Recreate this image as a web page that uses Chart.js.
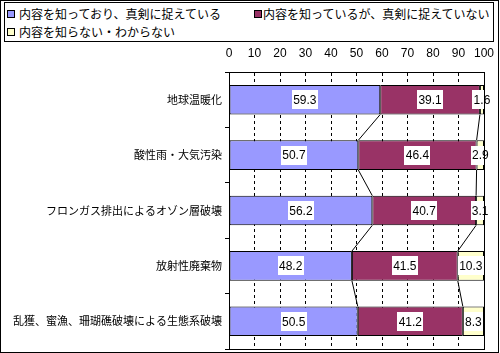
<!DOCTYPE html>
<html><head><meta charset="utf-8">
<script src="https://cdn.jsdelivr.net/npm/chart.js@4/dist/chart.umd.min.js"></script>
<style>
html,body{margin:0;padding:0;background:#fff;}
#wrap{position:relative;width:500px;height:353px;overflow:hidden;}
#c{position:absolute;left:0;top:0;}
#legend{position:absolute;left:4px;top:2px;width:490px;height:40px;box-sizing:border-box;border:1px solid #000;background:#fff;font-family:"Noto Sans CJK JP",sans-serif;font-size:12px;color:#000;}
.mk{position:absolute;width:6px;height:6px;border:1px solid #000;}
.tx{position:absolute;white-space:nowrap;line-height:16px;}
</style></head>
<body>
<div id="wrap">
<canvas id="c" width="500" height="353"></canvas>
<div id="legend"></div>
</div>
<script>
const categories = ['地球温暖化','酸性雨・大気汚染','フロンガス排出によるオゾン層破壊','放射性廃棄物','乱獲、蜜漁、珊瑚礁破壊による生態系破壊'];
const seriesNames = ['内容を知っており、真剣に捉えている','内容を知っているが、真剣に捉えていない','内容を知らない・わからない'];
const awareSerious = [59.3, 50.7, 56.2, 48.2, 50.5];
const awareNotSerious = [39.1, 46.4, 40.7, 41.5, 41.2];
const notAware = [1.6, 2.9, 3.1, 10.3, 8.3];
const xTickValues = [0,10,20,30,40,50,60,70,80,90,100];
const seriesColors = ['#9999FF','#993366','#FFFFCC'];

// legend (HTML text)
const legendPos = [[2,7,14,3],[249,7,258,3],[2,25,14,21]];
const lg = document.getElementById('legend');
seriesNames.forEach((n,i)=>{
  const p = legendPos[i];
  const m = document.createElement('div'); m.className='mk';
  m.style.left=p[0]+'px'; m.style.top=p[1]+'px'; m.style.background=seriesColors[i];
  const t = document.createElement('div'); t.className='tx';
  t.style.left=p[2]+'px'; t.style.top=p[3]+'px'; t.textContent=n;
  lg.appendChild(m); lg.appendChild(t);
});

const seriesLines = {
  id:'seriesLines',
  afterDatasetsDraw(chart){
    const ctx = chart.ctx;
    ctx.save();
    ctx.strokeStyle='#000'; ctx.lineWidth=1;
    [0,1].forEach(di=>{
      const els = chart.getDatasetMeta(di).data;
      for(let i=0;i<els.length-1;i++){
        const a=els[i], b=els[i+1];
        ctx.beginPath();
        ctx.moveTo(a.x, a.y + a.height/2);
        ctx.lineTo(b.x, b.y - b.height/2);
        ctx.stroke();
      }
    });
    // labels
    ctx.font = '12px "Liberation Sans", Arial, sans-serif';
    ctx.textAlign='center'; ctx.textBaseline='middle';
    chart.data.datasets.forEach((ds,di)=>{
      chart.getDatasetMeta(di).data.forEach((el,i)=>{
        const txt = ds.data[i].toFixed(1);
        const cx = (el.x + el.base)/2;
        const w = Math.ceil(ctx.measureText(txt).width)+2;
        const h = 19;
        ctx.fillStyle='#fff';
        ctx.fillRect(Math.round(cx - w/2), Math.round(el.y - h/2), w, h);
        ctx.fillStyle='#000';
        ctx.fillText(txt, cx, el.y+1);
      });
    });
    // plot border
    const ca = chart.chartArea;
    ctx.strokeRect(Math.round(ca.left)+0.5, Math.round(ca.top)+0.5, Math.round(ca.right-ca.left), Math.round(ca.bottom-ca.top));
    // outer frame
    ctx.strokeRect(0.5,0.5,498,352);
    ctx.restore();
  }
};

new Chart(document.getElementById('c'), {
  type:'bar',
  plugins:[seriesLines],
  data:{
    labels: categories,
    datasets:[awareSerious, awareNotSerious, notAware].map((d,i)=>({
      label: seriesNames[i], data: d, backgroundColor: seriesColors[i],
      borderColor:'#000', borderWidth:1, borderSkipped:false,
      barPercentage:1, categoryPercentage:0.535
    }))
  },
  options:{
    indexAxis:'y', responsive:false, animation:false,
    devicePixelRatio:1,
    layout:{padding:{left:0,top:0,right:16,bottom:4}},
    plugins:{legend:{display:false}, tooltip:{enabled:false}},
    scales:{
      x:{
        type:'linear', position:'top', stacked:true, min:0, max:100,
        afterBuildTicks(s){ s.ticks = xTickValues.map(v=>({value:v})); },
        afterFit(s){ s.height = 72; s.paddingLeft = 0; s.paddingRight = 0; },
        ticks:{ padding:11, color:'#000', font:{family:'"Liberation Sans", Arial, sans-serif', size:12}, maxRotation:0, autoSkip:false },
        grid:{ color:'#000', lineWidth:1, drawTicks:false },
        border:{ display:true, color:'#000', dash:[3,3] }
      },
      y:{
        stacked:true,
        afterFit(s){ s.width = 229; s.paddingTop = 0; s.paddingBottom = 0; },
        ticks:{ padding:3, color:'#000', font:{family:'"Noto Sans CJK JP", sans-serif', size:11} },
        grid:{ drawOnChartArea:false, drawTicks:true, tickLength:4, color:'#000', offset:true },
        border:{ display:true, color:'#000' }
      }
    }
  }
});
</script>
</body></html>
